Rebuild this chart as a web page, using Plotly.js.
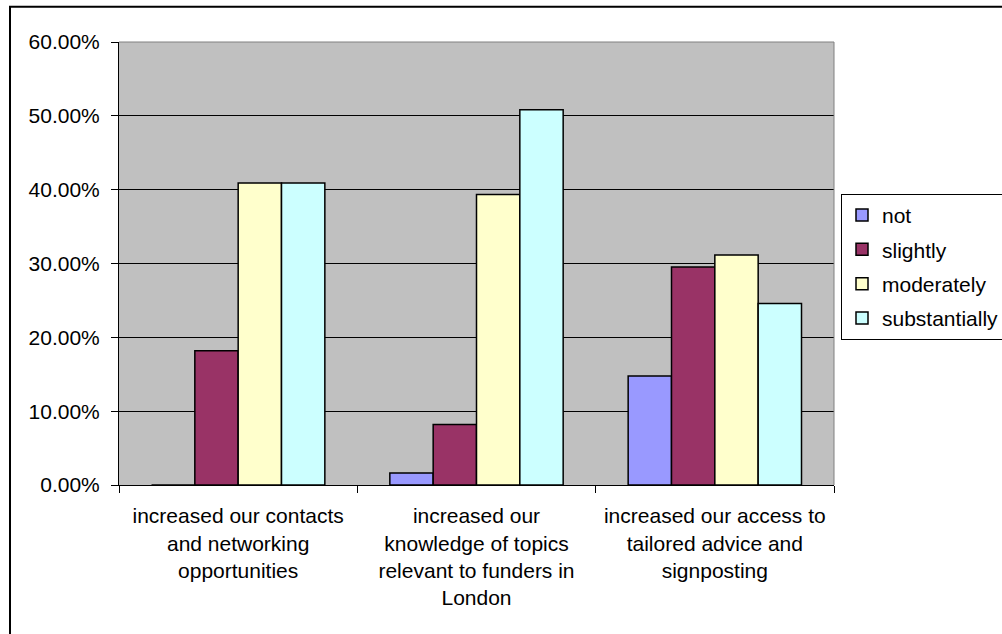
<!DOCTYPE html>
<html>
<head>
<meta charset="utf-8">
<script src="https://cdn.plot.ly/plotly-3.0.1.min.js"></script>
<style>
html,body{margin:0;padding:0;background:#fff;}
#chart{width:1002px;height:634px;}
</style>
</head>
<body>
<div id="chart"></div>
<script>
var categories = [
  "increased our contacts<br>and networking<br>opportunities",
  "increased our<br>knowledge of topics<br>relevant to funders in<br>London",
  "increased our access to<br>tailored advice and<br>signposting"
];
var seriesNames = ["not", "slightly", "moderately", "substantially"];
var notVals = [0, 0.0164, 0.1475];
var slightlyVals = [0.1818, 0.0820, 0.2951];
var moderatelyVals = [0.4091, 0.3934, 0.3115];
var substantiallyVals = [0.4091, 0.5082, 0.2459];
var colors = ["#9999FF", "#993366", "#FFFFCC", "#CCFFFF"];
var allVals = [notVals, slightlyVals, moderatelyVals, substantiallyVals];
var yTickVals = [0, 0.1, 0.2, 0.3, 0.4, 0.5, 0.6];

var FONT = "Liberation Sans, Arial, sans-serif";

var traces = seriesNames.map(function (name, i) {
  return {
    type: "bar",
    name: name,
    x: categories,
    y: allVals[i],
    legendgroup: name,
    marker: { color: colors[i], line: { color: "#000000", width: 1.5 } },
    hoverinfo: "skip"
  };
});

var layout = {
  width: 1002,
  height: 634,
  margin: { l: 119, r: 168, t: 42, b: 149, autoexpand: false },
  paper_bgcolor: "#FFFFFF",
  plot_bgcolor: "#C0C0C0",
  font: { family: FONT, size: 21, color: "#000000" },
  barmode: "group",
  bargap: 0.2727,
  bargroupgap: 0,
  showlegend: true,
  legend: {
    x: (841 - 119) / 715,
    xanchor: "left",
    y: (485.3 - 194) / 443.3,
    yanchor: "top",
    bgcolor: "#FFFFFF",
    bordercolor: "#000000",
    borderwidth: 1,
    font: { family: FONT, size: 21, color: "#000000" },
    tracegroupgap: 4,
    traceorder: "grouped"
  },
  xaxis: {
    type: "category",
    tickson: "boundaries",
    ticks: "outside",
    ticklen: 7,
    tickcolor: "#000000",
    tickwidth: 1,
    showline: true,
    linecolor: "#000000",
    linewidth: 1,
    showgrid: false,
    zeroline: false,
    ticklabelstandoff: 12,
    tickfont: { family: FONT, size: 21, color: "#000000" },
    fixedrange: true
  },
  yaxis: {
    range: [0, 0.6],
    tickvals: yTickVals,
    tickformat: ".2%",
    ticks: "outside",
    ticklen: 7,
    tickcolor: "#000000",
    tickwidth: 1,
    showline: true,
    linecolor: "#000000",
    linewidth: 1,
    showgrid: true,
    gridcolor: "#000000",
    gridwidth: 1,
    zeroline: false,
    ticklabelstandoff: 7,
    tickfont: { family: FONT, size: 21, color: "#000000" },
    fixedrange: true
  },
  shapes: [
    { type: "line", xref: "paper", yref: "paper", x0: 0, x1: 1, y0: 1, y1: 1,
      line: { color: "#808080", width: 1 }, layer: "above" },
    { type: "line", xref: "paper", yref: "paper", x0: 1, x1: 1, y0: 0, y1: 1,
      line: { color: "#808080", width: 1 }, layer: "above" },
    { type: "rect", xref: "paper", yref: "paper",
      x0: (10 - 119) / 715, x1: 1.5,
      y0: -0.5, y1: (485.3 - 6.7) / 443.3,
      line: { color: "#000000", width: 2 }, fillcolor: "rgba(0,0,0,0)", layer: "above" }
  ]
};

Plotly.newPlot("chart", traces, layout, { displayModeBar: false, staticPlot: true });
</script>
</body>
</html>
